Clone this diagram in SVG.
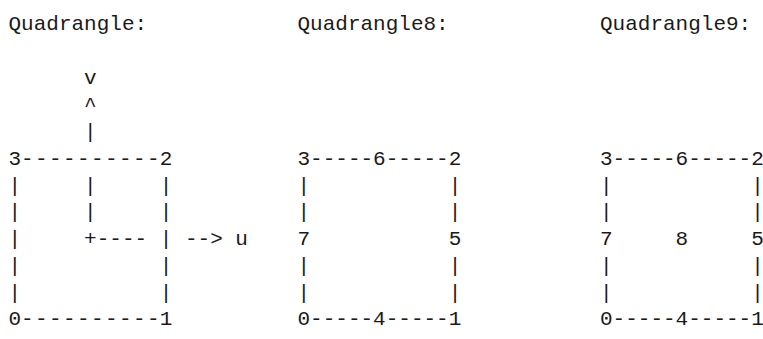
<svg xmlns="http://www.w3.org/2000/svg" width="763" height="339" viewBox="0 0 763 339">
<style>
  text { font-family: "Liberation Mono", "DejaVu Sans Mono", monospace; font-size: 21px; fill: #1a1a1a; white-space: pre; }
</style>
<rect width="763" height="339" fill="#ffffff"/>
<g id="quadrangle" xml:space="preserve">
  <text x="8.5" y="30">Quadrangle:</text>
  <text x="8.5" y="84">      v</text>
  <text x="8.5" y="111">      ^</text>
  <text x="8.5" y="138">      |</text>
  <text x="8.5" y="165">3</text>
  <text x="21.1" y="165" textLength="138.6" lengthAdjust="spacing">----------</text>
  <text x="159.7" y="165">2</text>
  <text x="8.5" y="191.7">|     |     |</text>
  <text x="8.5" y="218.4">|     |     |</text>
  <text x="8.5" y="245.1">|     +---- | --&gt; u</text>
  <text x="8.5" y="271.8">|           |</text>
  <text x="8.5" y="298.5">|           |</text>
  <text x="8.5" y="325.2">0</text>
  <text x="21.1" y="325.2" textLength="138.6" lengthAdjust="spacing">----------</text>
  <text x="159.7" y="325.2">1</text>
</g>
<g id="quadrangle8" xml:space="preserve">
  <text x="297.5" y="30">Quadrangle8:</text>
  <text x="297.5" y="165">3-----6-----2</text>
  <text x="297.5" y="191.7">|           |</text>
  <text x="297.5" y="218.4">|           |</text>
  <text x="297.5" y="245.1">7           5</text>
  <text x="297.5" y="271.8">|           |</text>
  <text x="297.5" y="298.5">|           |</text>
  <text x="297.5" y="325.2">0-----4-----1</text>
</g>
<g id="quadrangle9" xml:space="preserve">
  <text x="600" y="30">Quadrangle9:</text>
  <text x="600" y="165">3-----6-----2</text>
  <text x="600" y="191.7">|           |</text>
  <text x="600" y="218.4">|           |</text>
  <text x="600" y="245.1">7     8     5</text>
  <text x="600" y="271.8">|           |</text>
  <text x="600" y="298.5">|           |</text>
  <text x="600" y="325.2">0-----4-----1</text>
</g>
</svg>
